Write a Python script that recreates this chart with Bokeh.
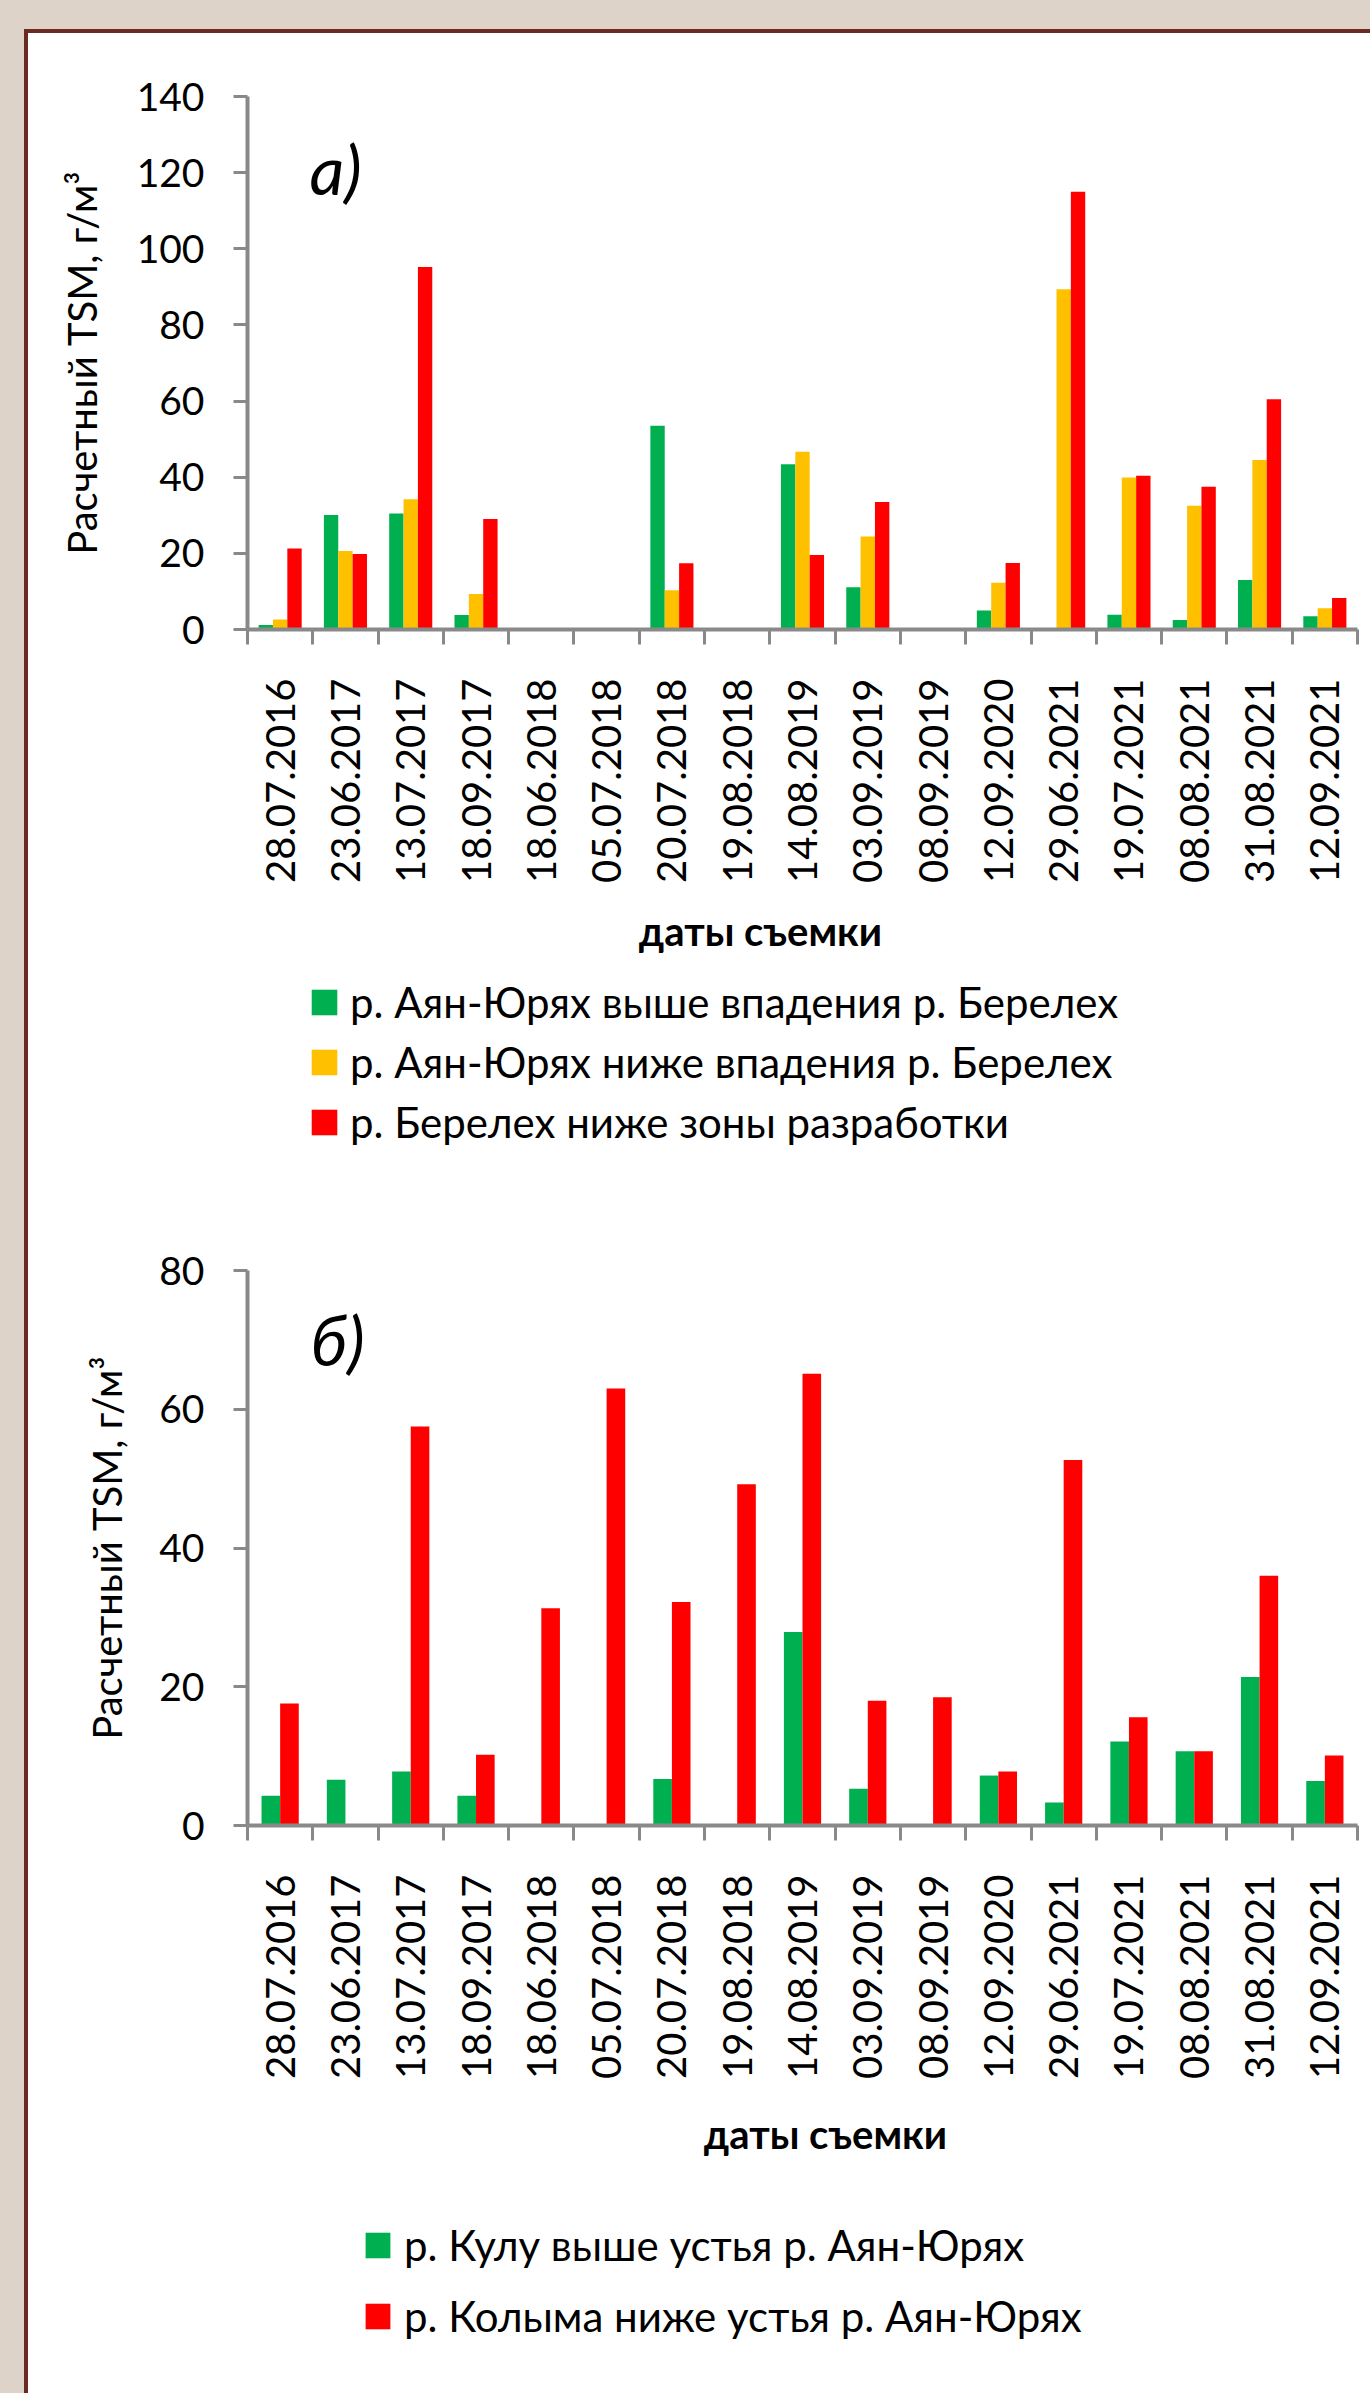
import numpy as np
from bokeh.plotting import figure
from bokeh.models import FixedTicker, Legend, LegendItem, Label, Spacer, Range1d
from bokeh.layouts import column, row
from bokeh.embed import file_html
from bokeh.resources import INLINE

# ---------------- data ----------------
dates = ["28.07.2016", "23.06.2017", "13.07.2017", "18.09.2017", "18.06.2018",
         "05.07.2018", "20.07.2018", "19.08.2018", "14.08.2019", "03.09.2019",
         "08.09.2019", "12.09.2020", "29.06.2021", "19.07.2021", "08.08.2021",
         "31.08.2021", "12.09.2021"]

# panel a)
a_names = ["р. Аян-Юрях выше впадения р. Берелех",
           "р. Аян-Юрях ниже впадения р. Берелех",
           "р. Берелех ниже зоны разработки"]
a_green = [1.2, 30.1, 30.5, 3.8, 0, 0, 53.5, 0, 43.4, 11.1, 0, 5.0, 0, 3.9, 2.5, 13.0, 3.5]
a_yellow = [2.6, 20.6, 34.2, 9.3, 0, 0, 10.3, 0, 46.7, 24.4, 0, 12.3, 89.4, 39.9, 32.5, 44.5, 5.6]
a_red = [21.3, 19.8, 95.2, 29.0, 0, 0, 17.4, 0, 19.6, 33.5, 0, 17.5, 115.0, 40.4, 37.5, 60.5, 8.3]

# panel б)
b_names = ["р. Кулу выше устья р. Аян-Юрях",
           "р. Колыма ниже устья р. Аян-Юрях"]
b_green = [4.3, 6.6, 7.8, 4.3, 0, 0, 6.7, 0, 27.9, 5.3, 0, 7.2, 3.3, 12.1, 10.7, 21.4, 6.4]
b_red = [17.6, 0, 57.5, 10.2, 31.3, 63.0, 32.2, 49.2, 65.1, 18.0, 18.5, 7.8, 52.7, 15.6, 10.7, 36.0, 10.1]

y_title = "Расчетный TSM, г/м³"
x_title = "даты съемки"

GREEN = "#00B050"
YELLOW = "#FFC000"
RED = "#FF0000"
AXIS = "#898989"
FONT = "Lato"
W = 1342
WHITE_BG = {"background-color": "white"}


def make_fig(height, top, bottom, ymax, ystep, y_standoff):
    n = len(dates)
    p = figure(width=W, height=height, title=None,
               x_range=Range1d(0, n), y_range=Range1d(0, ymax),
               toolbar_location=None, output_backend="svg",
               min_border_left=219, min_border_right=13,
               min_border_top=top, min_border_bottom=bottom,
               background_fill_color="white", border_fill_color="white",
               outline_line_color=None, styles=WHITE_BG)
    p.grid.visible = False

    xa = p.xaxis[0]
    xa.ticker = FixedTicker(ticks=[i + 0.5 for i in range(n)],
                            minor_ticks=list(range(n + 1)))
    xa.major_label_overrides = {i + 0.5: d for i, d in enumerate(dates)}
    xa.major_label_orientation = np.pi / 2
    xa.major_tick_out = 0
    xa.major_tick_in = 0
    xa.minor_tick_out = 15
    xa.minor_tick_in = 0
    xa.minor_tick_line_color = AXIS
    xa.minor_tick_line_width = 3
    xa.axis_line_color = AXIS
    xa.axis_line_width = 4
    xa.major_label_standoff = 34
    xa.major_label_text_font = FONT
    xa.major_label_text_font_size = "40px"
    xa.major_label_text_color = "black"

    ya = p.yaxis[0]
    ya.ticker = FixedTicker(ticks=list(range(0, ymax + 1, ystep)))
    ya.major_tick_out = 14
    ya.major_tick_in = 0
    ya.major_tick_line_color = AXIS
    ya.major_tick_line_width = 3
    ya.minor_tick_line_color = None
    ya.axis_line_color = AXIS
    ya.axis_line_width = 4
    ya.major_label_standoff = 29
    ya.major_label_text_font = FONT
    ya.major_label_text_font_size = "39px"
    ya.major_label_text_color = "black"
    ya.axis_label = y_title
    ya.axis_label_text_font = FONT
    ya.axis_label_text_font_style = "normal"
    ya.axis_label_text_font_size = "40px"
    ya.axis_label_text_color = "black"
    ya.axis_label_standoff = y_standoff
    return p


def make_legend_fig(height, names, colors, title_x, title_y, vx, vy, spacing, gw, standoff):
    q = figure(width=W, height=height, title=None, x_range=Range1d(0, 1), y_range=Range1d(0, 1),
               toolbar_location=None, output_backend="svg", min_border=0,
               min_border_left=219, min_border_right=13,
               x_axis_location=None, y_axis_location=None,
               background_fill_color="white", border_fill_color="white",
               outline_line_color=None, styles=WHITE_BG)
    q.grid.visible = False
    # legend-only renderers (a single empty record each)
    rends = [q.vbar(x=[np.nan], top=[np.nan], width=1, fill_color=c, line_color=None)
             for c in colors]
    q.add_layout(Label(x=title_x, y=title_y, x_units="screen", y_units="screen", text=x_title,
                       text_font=FONT, text_font_style="bold", text_font_size="40px",
                       text_align="center", text_baseline="middle", text_color="black"))
    leg = Legend(items=[LegendItem(label=nm, renderers=[r]) for nm, r in zip(names, rends)],
                 location=(vx, vy), orientation="vertical", padding=0, margin=0,
                 spacing=spacing, glyph_width=gw, glyph_height=32, label_height=51,
                 label_standoff=standoff, label_text_font=FONT, label_text_font_size="42px",
                 label_text_color="black", border_line_color=None, background_fill_alpha=0)
    q.add_layout(leg)
    return q


idx = np.arange(len(dates)) + 0.5

# ---------------- panel a) ----------------
pa = make_fig(866, 63, 270, 140, 20, 28)
wa = 0.22
for vals, col, off in [(a_green, GREEN, -wa), (a_yellow, YELLOW, 0.0), (a_red, RED, wa)]:
    pa.vbar(x=idx + off, top=vals, width=wa, fill_color=col, line_color=None)
pa.add_layout(Label(x=62, y=461, x_units="screen", y_units="screen", text="а)",
                    text_font=FONT, text_font_style="italic", text_font_size="68px",
                    text_baseline="middle", text_color="black"))
la = make_legend_fig(291, a_names, [GREEN, YELLOW, RED], 513, 260, 61, 43, 9, 32, 10)

# ---------------- panel б) ----------------
pb = make_fig(905, 80, 270, 80, 20, 25)
wb = 0.285
for vals, col, off in [(b_green, GREEN, -wb / 2), (b_red, RED, wb / 2)]:
    pb.vbar(x=idx + off, top=vals, width=wb, fill_color=col, line_color=None)
pb.add_layout(Label(x=63, y=486, x_units="screen", y_units="screen", text="б)",
                    text_font=FONT, text_font_style="italic", text_font_size="68px",
                    text_baseline="middle", text_color="black"))
lb = make_legend_fig(298, b_names, [GREEN, RED], 578, 260, 115, 52, 20, 31, 11)

# ---------------- frame / page ----------------
BROWN = "#6B2B22"
top_bar = Spacer(width=1346, height=4, styles={"background-color": BROWN})
left_bar = Spacer(width=4, height=2360, styles={"background-color": BROWN})
charts = column(pa, la, pb, lb, styles=WHITE_BG)
p = column(
    Spacer(width=1370, height=29),
    row(Spacer(width=24, height=4), top_bar),
    row(Spacer(width=24, height=2360), left_bar, charts),
)

html = file_html(p, INLINE)
html = html.replace("</head>", "<style>html, body { background-color: #DDD3C9; }</style></head>", 1)
open("out.html", "w").write(html)
